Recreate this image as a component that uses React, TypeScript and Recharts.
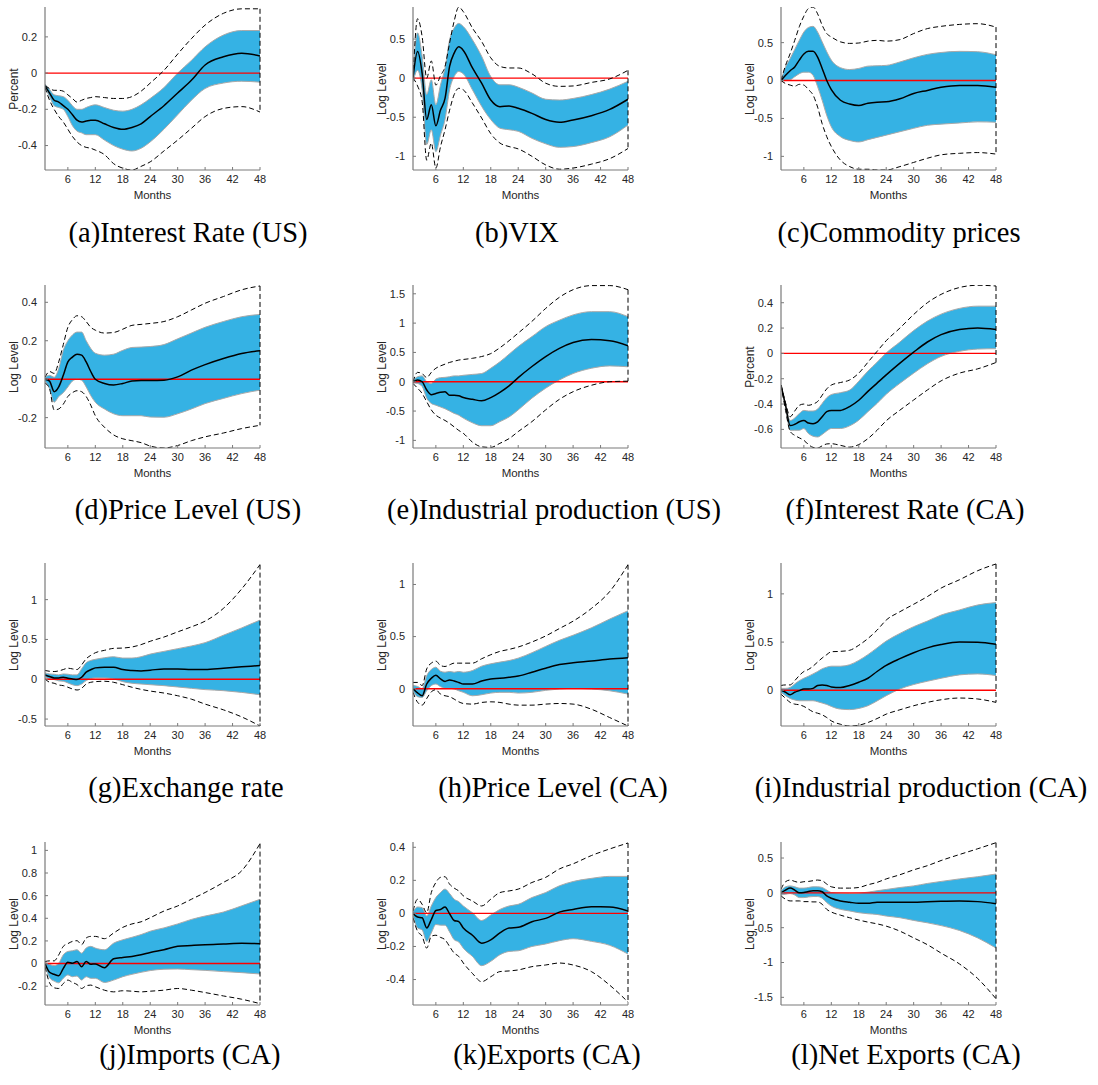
import React from "react";
import { Area, ComposedChart, Label, Line, ReferenceLine, XAxis, YAxis } from "recharts";

// horizon in months (denser sampling early on where the responses wiggle)
const months = [1, 2, 3, 4, 5, 6, 7, 8, 9, 10, 11, 12, 14, 16, 18, 20, 22, 24, 27, 30, 33, 36, 40, 44, 48];
const monthTicks = [6, 12, 18, 24, 30, 36, 42, 48];

// (a) Interest Rate (US)
const rateUsMean = [-0.07, -0.11, -0.15, -0.16, -0.18, -0.2, -0.23, -0.26, -0.27, -0.265, -0.26, -0.26, -0.28, -0.3, -0.31, -0.3, -0.28, -0.24, -0.18, -0.11, -0.04, 0.045, 0.09, 0.11, 0.095];
const rateUsBandHi = [-0.06, -0.09, -0.12, -0.125, -0.13, -0.15, -0.18, -0.2, -0.2, -0.19, -0.18, -0.175, -0.19, -0.205, -0.21, -0.2, -0.175, -0.14, -0.08, 0, 0.07, 0.145, 0.21, 0.235, 0.235];
const rateUsBandLo = [-0.08, -0.13, -0.18, -0.19, -0.2, -0.24, -0.29, -0.32, -0.33, -0.34, -0.34, -0.34, -0.37, -0.4, -0.42, -0.43, -0.415, -0.38, -0.31, -0.23, -0.15, -0.085, -0.055, -0.045, -0.05];
const rateUsOutHi = [-0.07, -0.085, -0.095, -0.095, -0.1, -0.12, -0.14, -0.16, -0.15, -0.14, -0.135, -0.13, -0.135, -0.14, -0.14, -0.13, -0.1, -0.055, 0.015, 0.105, 0.19, 0.265, 0.33, 0.355, 0.355];
const rateUsOutLo = [-0.08, -0.15, -0.2, -0.24, -0.27, -0.31, -0.35, -0.38, -0.4, -0.41, -0.415, -0.425, -0.45, -0.5, -0.525, -0.535, -0.515, -0.49, -0.43, -0.37, -0.305, -0.24, -0.195, -0.185, -0.215];

// (b) VIX
const vixMean = [0, 0.34, 0.06, -0.53, -0.34, -0.61, -0.41, -0.26, 0.15, 0.32, 0.4, 0.355, 0.13, -0.065, -0.28, -0.365, -0.355, -0.385, -0.45, -0.53, -0.565, -0.535, -0.48, -0.4, -0.27];
const vixBandHi = [0.05, 0.58, 0.28, -0.21, -0.02, -0.34, -0.09, 0.13, 0.49, 0.64, 0.7, 0.66, 0.49, 0.28, 0.02, -0.085, -0.085, -0.115, -0.19, -0.27, -0.28, -0.26, -0.21, -0.14, -0.04];
const vixBandLo = [-0.05, 0.1, -0.15, -0.85, -0.66, -0.94, -0.73, -0.53, -0.15, 0.02, 0.085, 0.055, -0.15, -0.36, -0.53, -0.64, -0.66, -0.68, -0.77, -0.84, -0.885, -0.875, -0.825, -0.75, -0.6];
const vixOutHi = [0, 0.76, 0.53, 0, 0.22, -0.09, 0.03, 0.15, 0.45, 0.73, 0.91, 0.85, 0.64, 0.47, 0.26, 0.15, 0.13, 0.13, 0.055, -0.065, -0.105, -0.1, -0.055, -0.01, 0.1];
const vixOutLo = [0, -0.1, -0.3, -1.05, -0.83, -1.15, -0.88, -0.66, -0.41, -0.21, -0.13, -0.15, -0.32, -0.51, -0.71, -0.83, -0.875, -0.905, -1.0, -1.11, -1.165, -1.15, -1.1, -1.03, -0.9];

// (c) Commodity prices
const commMean = [0, 0.07, 0.13, 0.18, 0.27, 0.35, 0.385, 0.385, 0.31, 0.16, 0, -0.12, -0.26, -0.31, -0.33, -0.3, -0.285, -0.28, -0.24, -0.17, -0.13, -0.09, -0.065, -0.065, -0.09];
const commBandHi = [0, 0.18, 0.29, 0.41, 0.53, 0.64, 0.7, 0.715, 0.64, 0.51, 0.38, 0.27, 0.17, 0.145, 0.16, 0.19, 0.195, 0.2, 0.245, 0.3, 0.345, 0.37, 0.385, 0.38, 0.34];
const commBandLo = [0, 0.005, 0.01, 0.05, 0.09, 0.11, 0.11, 0.07, -0.08, -0.26, -0.46, -0.61, -0.74, -0.79, -0.81, -0.78, -0.75, -0.72, -0.675, -0.63, -0.59, -0.575, -0.56, -0.545, -0.55];
const commOutHi = [0, 0.2, 0.355, 0.53, 0.71, 0.85, 0.95, 0.97, 0.88, 0.73, 0.62, 0.575, 0.51, 0.49, 0.495, 0.52, 0.53, 0.52, 0.54, 0.62, 0.685, 0.715, 0.74, 0.75, 0.705];
const commOutLo = [0, -0.04, -0.06, -0.075, -0.05, -0.06, -0.12, -0.19, -0.35, -0.57, -0.74, -0.87, -1.05, -1.135, -1.17, -1.17, -1.18, -1.18, -1.135, -1.08, -1.025, -0.98, -0.96, -0.95, -0.97];

// (d) Price Level (US)
const priceUsMean = [0, -0.01, -0.065, -0.04, 0.02, 0.09, 0.115, 0.13, 0.125, 0.09, 0.04, 0, -0.022, -0.03, -0.022, -0.01, -0.007, -0.007, -0.005, 0.012, 0.047, 0.076, 0.108, 0.134, 0.148];
const priceUsBandHi = [0.01, 0.02, 0.01, 0.055, 0.15, 0.2, 0.23, 0.245, 0.245, 0.2, 0.16, 0.135, 0.125, 0.13, 0.15, 0.165, 0.167, 0.17, 0.18, 0.21, 0.24, 0.27, 0.3, 0.325, 0.337];
const priceUsBandLo = [-0.01, -0.05, -0.12, -0.09, -0.07, -0.04, -0.01, 0, -0.005, -0.04, -0.085, -0.12, -0.155, -0.18, -0.19, -0.19, -0.19, -0.197, -0.198, -0.18, -0.155, -0.127, -0.1, -0.075, -0.057];
const priceUsOutHi = [0.01, 0.04, 0.03, 0.09, 0.18, 0.27, 0.31, 0.33, 0.325, 0.3, 0.27, 0.255, 0.24, 0.243, 0.26, 0.28, 0.285, 0.29, 0.3, 0.325, 0.36, 0.395, 0.43, 0.465, 0.485];
const priceUsOutLo = [-0.02, -0.05, -0.16, -0.155, -0.13, -0.09, -0.07, -0.06, -0.065, -0.09, -0.135, -0.19, -0.25, -0.29, -0.31, -0.32, -0.33, -0.348, -0.358, -0.345, -0.32, -0.3, -0.28, -0.257, -0.24];

// (e) Industrial production (US)
const ipUsMean = [0, 0.03, 0, -0.14, -0.22, -0.2, -0.18, -0.17, -0.23, -0.23, -0.24, -0.27, -0.3, -0.325, -0.27, -0.18, -0.07, 0.07, 0.26, 0.43, 0.57, 0.67, 0.72, 0.7, 0.615];
const ipUsBandHi = [0.02, 0.085, 0.1, 0, -0.03, 0.045, 0.07, 0.075, 0.085, 0.1, 0.1, 0.11, 0.125, 0.14, 0.23, 0.34, 0.47, 0.6, 0.77, 0.94, 1.05, 1.14, 1.195, 1.195, 1.11];
const ipUsBandLo = [-0.02, -0.03, -0.08, -0.28, -0.37, -0.4, -0.43, -0.46, -0.5, -0.54, -0.57, -0.62, -0.7, -0.75, -0.75, -0.68, -0.6, -0.48, -0.28, -0.11, 0.03, 0.14, 0.23, 0.27, 0.255];
const ipUsOutHi = [0, 0.16, 0.14, 0.07, 0.16, 0.23, 0.27, 0.3, 0.33, 0.35, 0.37, 0.38, 0.4, 0.43, 0.48, 0.58, 0.7, 0.83, 1.03, 1.25, 1.44, 1.57, 1.64, 1.64, 1.57];
const ipUsOutLo = [-0.03, -0.11, -0.2, -0.34, -0.48, -0.57, -0.62, -0.66, -0.71, -0.77, -0.83, -0.88, -1.03, -1.11, -1.12, -1.05, -0.97, -0.85, -0.68, -0.48, -0.3, -0.17, -0.06, 0, 0.01];

// (f) Interest Rate (CA)
const rateCaMean = [-0.25, -0.41, -0.57, -0.56, -0.54, -0.53, -0.55, -0.555, -0.54, -0.5, -0.46, -0.45, -0.45, -0.42, -0.37, -0.3, -0.235, -0.17, -0.077, 0.01, 0.09, 0.148, 0.188, 0.2, 0.188];
const rateCaBandHi = [-0.25, -0.4, -0.53, -0.51, -0.475, -0.45, -0.455, -0.455, -0.44, -0.395, -0.35, -0.325, -0.31, -0.29, -0.22, -0.14, -0.07, 0.003, 0.09, 0.18, 0.255, 0.31, 0.355, 0.373, 0.373];
const rateCaBandLo = [-0.25, -0.43, -0.607, -0.607, -0.607, -0.593, -0.633, -0.654, -0.66, -0.64, -0.612, -0.593, -0.593, -0.572, -0.527, -0.46, -0.395, -0.323, -0.236, -0.156, -0.082, -0.024, 0.016, 0.034, 0.037];
const rateCaOutHi = [-0.25, -0.39, -0.5, -0.455, -0.41, -0.4, -0.41, -0.4, -0.38, -0.33, -0.28, -0.25, -0.23, -0.21, -0.156, -0.07, 0.016, 0.1, 0.2, 0.307, 0.4, 0.466, 0.52, 0.538, 0.532];
const rateCaOutLo = [-0.25, -0.45, -0.615, -0.647, -0.667, -0.686, -0.72, -0.742, -0.747, -0.73, -0.715, -0.713, -0.726, -0.74, -0.72, -0.673, -0.607, -0.532, -0.448, -0.368, -0.289, -0.217, -0.156, -0.122, -0.072];

// (g) Exchange rate
const fxMean = [0.055, 0.035, 0.017, 0.017, 0.025, 0.013, 0.004, -0.004, 0.025, 0.09, 0.12, 0.143, 0.152, 0.152, 0.122, 0.11, 0.105, 0.114, 0.13, 0.13, 0.122, 0.122, 0.139, 0.156, 0.173];
const fxBandHi = [0.08, 0.067, 0.063, 0.055, 0.067, 0.063, 0.055, 0.055, 0.13, 0.207, 0.236, 0.25, 0.27, 0.283, 0.266, 0.266, 0.283, 0.316, 0.35, 0.384, 0.418, 0.46, 0.553, 0.645, 0.743];
const fxBandLo = [0.03, 0.004, -0.004, -0.02, -0.025, -0.046, -0.068, -0.08, -0.06, -0.017, 0.008, 0.017, 0.017, 0.004, -0.03, -0.05, -0.06, -0.068, -0.08, -0.097, -0.114, -0.13, -0.143, -0.165, -0.194];
const fxOutHi = [0.11, 0.1, 0.097, 0.105, 0.122, 0.139, 0.13, 0.122, 0.18, 0.257, 0.3, 0.333, 0.363, 0.388, 0.392, 0.405, 0.435, 0.477, 0.53, 0.595, 0.658, 0.73, 0.89, 1.135, 1.44];
const fxOutLo = [0.004, -0.038, -0.05, -0.072, -0.08, -0.1, -0.122, -0.135, -0.114, -0.06, -0.038, -0.03, -0.025, -0.038, -0.068, -0.1, -0.127, -0.148, -0.173, -0.207, -0.25, -0.312, -0.384, -0.473, -0.587];

// (h) Price Level (CA)
const priceCaMean = [0, -0.04, -0.068, 0.045, 0.1, 0.13, 0.094, 0.07, 0.084, 0.074, 0.06, 0.045, 0.045, 0.074, 0.094, 0.1, 0.11, 0.122, 0.158, 0.197, 0.232, 0.248, 0.265, 0.284, 0.297];
const priceCaBandHi = [0.03, 0.022, 0, 0.126, 0.184, 0.206, 0.168, 0.158, 0.165, 0.158, 0.165, 0.158, 0.174, 0.216, 0.239, 0.255, 0.27, 0.293, 0.345, 0.406, 0.464, 0.513, 0.584, 0.668, 0.748];
const priceCaBandLo = [-0.02, -0.077, -0.084, -0.02, 0.03, 0.045, 0.02, 0.003, 0.003, -0.003, -0.02, -0.035, -0.068, -0.058, -0.042, -0.035, -0.035, -0.042, -0.035, -0.016, -0.003, 0.003, -0.003, -0.02, -0.052];
const priceCaOutHi = [0.06, 0.06, 0.03, 0.19, 0.245, 0.265, 0.223, 0.213, 0.229, 0.245, 0.245, 0.245, 0.245, 0.287, 0.326, 0.358, 0.377, 0.4, 0.448, 0.506, 0.577, 0.648, 0.77, 0.932, 1.19];
const priceCaOutLo = [-0.035, -0.13, -0.158, -0.094, -0.03, -0.01, -0.052, -0.068, -0.077, -0.1, -0.126, -0.142, -0.148, -0.132, -0.126, -0.132, -0.148, -0.158, -0.158, -0.148, -0.142, -0.148, -0.197, -0.277, -0.358];

// (i) Industrial production (CA)
const ipCaMean = [0, -0.02, -0.045, -0.02, -0.003, 0.014, 0.014, 0.02, 0.05, 0.056, 0.05, 0.035, 0.028, 0.05, 0.084, 0.125, 0.195, 0.258, 0.328, 0.39, 0.44, 0.474, 0.5, 0.498, 0.477];
const ipCaBandHi = [0.02, 0.02, 0.03, 0.066, 0.1, 0.125, 0.146, 0.17, 0.195, 0.223, 0.24, 0.25, 0.25, 0.265, 0.31, 0.37, 0.44, 0.51, 0.59, 0.66, 0.718, 0.78, 0.833, 0.885, 0.91];
const ipCaBandLo = [-0.02, -0.056, -0.084, -0.1, -0.108, -0.108, -0.108, -0.108, -0.118, -0.132, -0.146, -0.167, -0.195, -0.2, -0.188, -0.16, -0.11, -0.056, 0.014, 0.06, 0.094, 0.125, 0.16, 0.17, 0.153];
const ipCaOutHi = [0.05, 0.056, 0.056, 0.1, 0.153, 0.195, 0.216, 0.25, 0.293, 0.335, 0.37, 0.4, 0.404, 0.415, 0.467, 0.537, 0.624, 0.728, 0.815, 0.892, 0.972, 1.06, 1.146, 1.24, 1.31];
const ipCaOutLo = [-0.04, -0.084, -0.125, -0.143, -0.15, -0.167, -0.195, -0.223, -0.237, -0.254, -0.282, -0.317, -0.352, -0.37, -0.362, -0.334, -0.293, -0.247, -0.202, -0.16, -0.125, -0.098, -0.08, -0.09, -0.125];

// (j) Imports (CA)
const impMean = [0, -0.077, -0.095, -0.107, -0.042, 0.012, 0.003, 0.018, -0.027, 0.018, -0.006, -0.003, -0.036, 0.042, 0.054, 0.063, 0.077, 0.098, 0.122, 0.152, 0.16, 0.167, 0.173, 0.179, 0.176];
const impBandHi = [0.01, -0.006, -0.018, 0.003, 0.077, 0.107, 0.113, 0.122, 0.092, 0.137, 0.152, 0.137, 0.122, 0.18, 0.21, 0.232, 0.256, 0.286, 0.315, 0.35, 0.39, 0.42, 0.455, 0.51, 0.568];
const impBandLo = [-0.012, -0.125, -0.155, -0.17, -0.13, -0.1, -0.116, -0.11, -0.146, -0.116, -0.13, -0.13, -0.167, -0.146, -0.116, -0.095, -0.077, -0.062, -0.05, -0.048, -0.054, -0.06, -0.071, -0.08, -0.092];
const impOutHi = [0.018, 0.024, 0.024, 0.077, 0.152, 0.176, 0.196, 0.202, 0.167, 0.226, 0.24, 0.24, 0.22, 0.27, 0.32, 0.35, 0.369, 0.405, 0.464, 0.509, 0.568, 0.628, 0.717, 0.82, 1.06];
const impOutLo = [-0.027, -0.17, -0.214, -0.22, -0.176, -0.146, -0.167, -0.185, -0.22, -0.196, -0.19, -0.205, -0.235, -0.25, -0.24, -0.244, -0.25, -0.244, -0.235, -0.22, -0.235, -0.256, -0.286, -0.315, -0.354];

// (k) Exports (CA)
const expMean = [0, -0.022, -0.026, -0.088, -0.037, 0.018, 0.024, 0.039, -0.002, -0.043, -0.05, -0.088, -0.132, -0.18, -0.16, -0.118, -0.088, -0.084, -0.05, -0.03, 0.008, 0.024, 0.04, 0.039, 0.014];
const expBandHi = [0.01, 0.039, 0.035, -0.016, 0.045, 0.096, 0.126, 0.147, 0.12, 0.086, 0.071, 0.045, 0.004, -0.043, -0.01, 0.024, 0.045, 0.055, 0.096, 0.126, 0.167, 0.193, 0.212, 0.224, 0.224];
const expBandLo = [-0.01, -0.088, -0.1, -0.169, -0.118, -0.067, -0.071, -0.071, -0.112, -0.159, -0.173, -0.21, -0.26, -0.316, -0.29, -0.25, -0.23, -0.226, -0.2, -0.185, -0.165, -0.153, -0.169, -0.193, -0.246];
const expOutHi = [0.014, 0.086, 0.055, 0.004, 0.126, 0.187, 0.218, 0.222, 0.177, 0.153, 0.136, 0.106, 0.075, 0.045, 0.086, 0.126, 0.136, 0.147, 0.187, 0.218, 0.269, 0.3, 0.35, 0.39, 0.426];
const expOutLo = [-0.026, -0.108, -0.138, -0.21, -0.138, -0.132, -0.145, -0.159, -0.2, -0.24, -0.26, -0.3, -0.363, -0.413, -0.383, -0.352, -0.348, -0.342, -0.322, -0.312, -0.3, -0.312, -0.352, -0.434, -0.536];

// (l) Net Exports (CA)
const nxMean = [0, 0.04, 0.068, 0.04, 0, 0.005, 0.02, 0.03, 0.03, 0.015, -0.043, -0.077, -0.116, -0.135, -0.15, -0.15, -0.135, -0.135, -0.135, -0.135, -0.126, -0.12, -0.116, -0.126, -0.155];
const nxBandHi = [0.03, 0.087, 0.1, 0.087, 0.068, 0.068, 0.077, 0.087, 0.087, 0.077, 0.04, 0.005, -0.005, -0.01, -0.005, 0.01, 0.03, 0.048, 0.077, 0.1, 0.135, 0.164, 0.2, 0.232, 0.27];
const nxBandLo = [-0.03, -0.02, -0.01, -0.03, -0.068, -0.068, -0.058, -0.053, -0.053, -0.077, -0.14, -0.19, -0.237, -0.26, -0.285, -0.3, -0.31, -0.333, -0.357, -0.396, -0.43, -0.47, -0.54, -0.647, -0.792];
const nxOutHi = [0.053, 0.16, 0.184, 0.164, 0.15, 0.16, 0.164, 0.174, 0.184, 0.174, 0.126, 0.087, 0.068, 0.068, 0.077, 0.116, 0.15, 0.2, 0.26, 0.33, 0.39, 0.464, 0.55, 0.633, 0.72];
const nxOutLo = [-0.043, -0.092, -0.116, -0.116, -0.116, -0.126, -0.126, -0.13, -0.13, -0.164, -0.237, -0.275, -0.32, -0.357, -0.39, -0.42, -0.445, -0.478, -0.55, -0.647, -0.744, -0.865, -1.02, -1.23, -1.52];

const panels = [
  { title: "(a)Interest Rate (US)", yLabel: "Percent", domain: [-0.535, 0.365], ticks: [-0.4, -0.2, 0, 0.2], mean: rateUsMean, bandHi: rateUsBandHi, bandLo: rateUsBandLo, outHi: rateUsOutHi, outLo: rateUsOutLo },
  { title: "(b)VIX", yLabel: "Log Level", domain: [-1.175, 0.91], ticks: [-1, -0.5, 0, 0.5], mean: vixMean, bandHi: vixBandHi, bandLo: vixBandLo, outHi: vixOutHi, outLo: vixOutLo },
  { title: "(c)Commodity prices", yLabel: "Log Level", domain: [-1.18, 0.97], ticks: [-1, -0.5, 0, 0.5], mean: commMean, bandHi: commBandHi, bandLo: commBandLo, outHi: commOutHi, outLo: commOutLo },
  { title: "(d)Price Level (US)", yLabel: "Log Level", domain: [-0.358, 0.49], ticks: [-0.2, 0, 0.2, 0.4], mean: priceUsMean, bandHi: priceUsBandHi, bandLo: priceUsBandLo, outHi: priceUsOutHi, outLo: priceUsOutLo },
  { title: "(e)Industrial production (US)", yLabel: "Log Level", domain: [-1.13, 1.65], ticks: [-1, -0.5, 0, 0.5, 1, 1.5], mean: ipUsMean, bandHi: ipUsBandHi, bandLo: ipUsBandLo, outHi: ipUsOutHi, outLo: ipUsOutLo },
  { title: "(f)Interest Rate (CA)", yLabel: "Percent", domain: [-0.747, 0.54], ticks: [-0.6, -0.4, -0.2, 0, 0.2, 0.4], mean: rateCaMean, bandHi: rateCaBandHi, bandLo: rateCaBandLo, outHi: rateCaOutHi, outLo: rateCaOutLo },
  { title: "(g)Exchange rate", yLabel: "Log Level", domain: [-0.587, 1.46], ticks: [-0.5, 0, 0.5, 1], mean: fxMean, bandHi: fxBandHi, bandLo: fxBandLo, outHi: fxOutHi, outLo: fxOutLo },
  { title: "(h)Price Level (CA)", yLabel: "Log Level", domain: [-0.358, 1.206], ticks: [0, 0.5, 1], mean: priceCaMean, bandHi: priceCaBandHi, bandLo: priceCaBandLo, outHi: priceCaOutHi, outLo: priceCaOutLo },
  { title: "(i)Industrial production (CA)", yLabel: "Log Level", domain: [-0.37, 1.32], ticks: [0, 0.5, 1], mean: ipCaMean, bandHi: ipCaBandHi, bandLo: ipCaBandLo, outHi: ipCaOutHi, outLo: ipCaOutLo },
  { title: "(j)Imports (CA)", yLabel: "Log Level", domain: [-0.366, 1.074], ticks: [-0.2, 0, 0.2, 0.4, 0.6, 0.8, 1], mean: impMean, bandHi: impBandHi, bandLo: impBandLo, outHi: impOutHi, outLo: impOutLo },
  { title: "(k)Exports (CA)", yLabel: "Log Level", domain: [-0.554, 0.432], ticks: [-0.4, -0.2, 0, 0.2, 0.4], mean: expMean, bandHi: expBandHi, bandLo: expBandLo, outHi: expOutHi, outLo: expOutLo },
  { title: "(l)Net Exports (CA)", yLabel: "Log Level", domain: [-1.61, 0.73], ticks: [-1.5, -1, -0.5, 0, 0.5], mean: nxMean, bandHi: nxBandHi, bandLo: nxBandLo, outHi: nxOutHi, outLo: nxOutLo },
];

// plot-area geometry of the 3x4 grid
const COL_LEFT = [45, 413, 781];
const ROW_TOP = [7, 285, 563, 842];
// caption centres, one per panel (they are not exactly aligned in the source)
const CAPTION_X = [188, 517, 899, 188, 554, 905, 186, 553, 921, 190, 547, 906];
const CAPTION_Y = [233, 510, 788, 1055];
const PLOT_W = 215;
const PLOT_H = 163;
const Y_AXIS_W = 45;

const BAND = "#35b2e4";
const AXIS = "#7a7a7a";
const TEXT = "#262626";

type PanelDef = (typeof panels)[number];

function Panel({ p, index }: { p: PanelDef; index: number }) {
  const col = index % 3;
  const row = Math.floor(index / 3);
  const left = COL_LEFT[col];
  const top = ROW_TOP[row];
  const data = months.map((m, i) => ({
    m,
    mean: p.mean[i],
    band: [p.bandLo[i], p.bandHi[i]],
    hi: p.outHi[i],
    lo: p.outLo[i],
  }));
  const last = months.length - 1;

  return (
    <>
      <div style={{ position: "absolute", left: left - Y_AXIS_W, top: top - 7 }}>
        <ComposedChart
          width={Y_AXIS_W + PLOT_W + 10}
          height={7 + PLOT_H + 35}
          data={data}
          margin={{ top: 7, right: 10, bottom: 0, left: 0 }}
        >
          <XAxis
            dataKey="m"
            type="number"
            domain={[1, 48]}
            ticks={monthTicks}
            allowDataOverflow
            height={35}
            axisLine={{ stroke: AXIS, strokeWidth: 1.2 }}
            tickLine={{ stroke: AXIS }}
            tickSize={-3}
            tickMargin={8}
            tick={{ fill: TEXT, fontSize: 11 }}
          >
            <Label value="Months" position="insideBottom" offset={6} fill={TEXT} fontSize={11.5} />
          </XAxis>
          <YAxis
            type="number"
            domain={p.domain}
            ticks={p.ticks}
            allowDataOverflow
            width={Y_AXIS_W}
            axisLine={{ stroke: AXIS, strokeWidth: 1.2 }}
            tickLine={{ stroke: AXIS }}
            tickSize={-3}
            tickMargin={11}
            tick={{ fill: TEXT, fontSize: 11 }}
          />
          <Area
            dataKey="band"
            type="monotone"
            fill={BAND}
            fillOpacity={1}
            stroke="#a9a9a9"
            strokeWidth={1}
            isAnimationActive={false}
          />
          <ReferenceLine y={0} stroke="#ff0000" strokeWidth={1.4} />
          <Line dataKey="hi" type="monotone" stroke="#000" strokeWidth={1} strokeDasharray="5 3" dot={false} isAnimationActive={false} />
          <Line dataKey="lo" type="monotone" stroke="#000" strokeWidth={1} strokeDasharray="5 3" dot={false} isAnimationActive={false} />
          <ReferenceLine
            segment={[
              { x: months[last], y: p.outHi[last] },
              { x: months[last], y: p.outLo[last] },
            ]}
            stroke="#000"
            strokeDasharray="5 3"
            ifOverflow="visible"
          />
          <Line dataKey="mean" type="monotone" stroke="#000" strokeWidth={1.5} dot={false} isAnimationActive={false} />
        </ComposedChart>
      </div>
      <div
        style={{
          position: "absolute",
          left: left - 31,
          top: top + PLOT_H / 2,
          transform: "translate(-50%, -50%) rotate(-90deg)",
          whiteSpace: "nowrap",
          fontSize: 12,
          color: TEXT,
        }}
      >
        {p.yLabel}
      </div>
      <div
        style={{
          position: "absolute",
          left: CAPTION_X[index] - 200,
          width: 400,
          top: CAPTION_Y[row] - 17,
          lineHeight: "34px",
          textAlign: "center",
          fontFamily: '"Liberation Serif", "Times New Roman", serif',
          fontSize: 28.5,
          color: "#000",
        }}
      >
        {p.title}
      </div>
    </>
  );
}

export default function App() {
  return (
    <div
      style={{
        position: "absolute",
        left: 0,
        top: 0,
        width: 1098,
        height: 1085,
        background: "#fff",
        fontFamily: '"Liberation Sans", Arial, sans-serif',
      }}
    >
      {panels.map((p, i) => (
        <Panel key={p.title} p={p} index={i} />
      ))}
    </div>
  );
}
